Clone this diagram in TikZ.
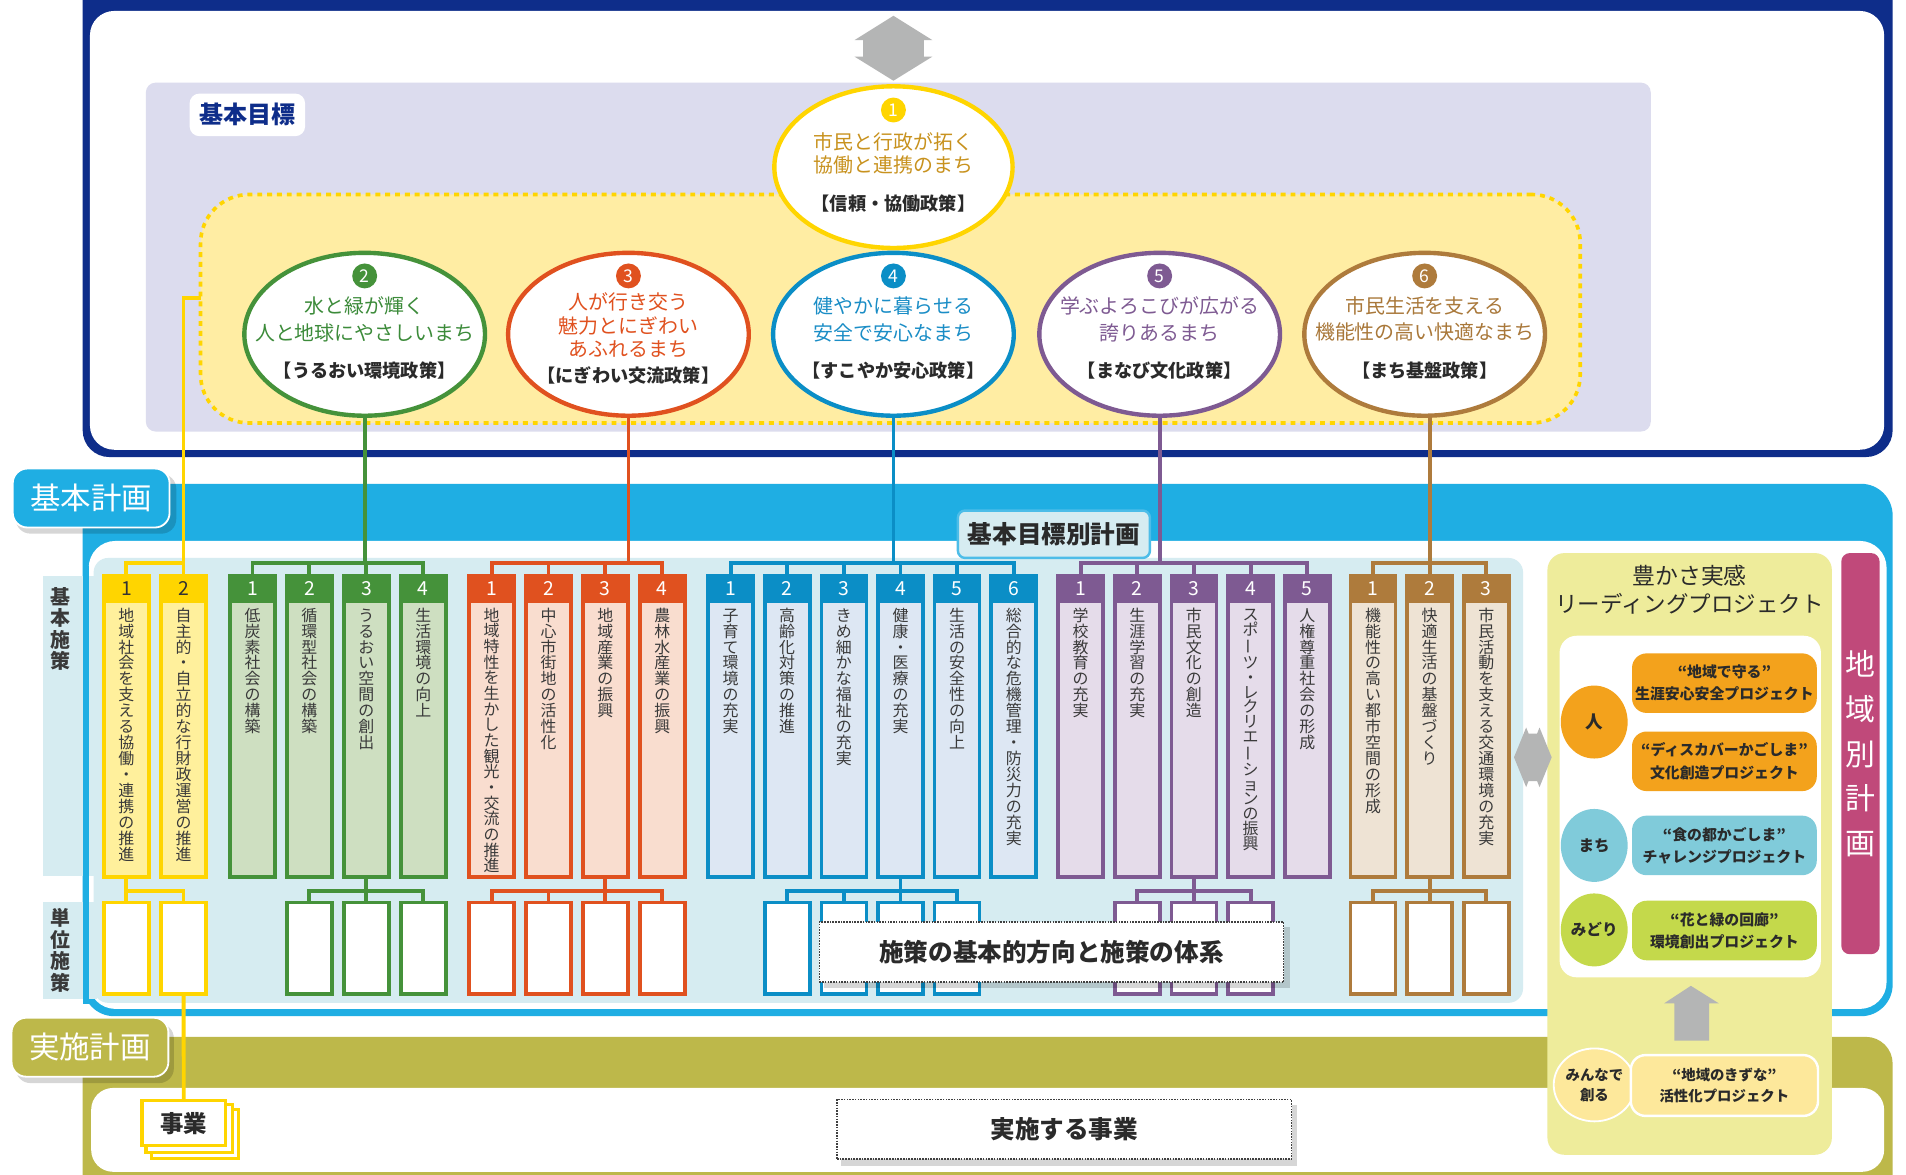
\documentclass[tikz,border=0pt]{standalone}
\usepackage{fontspec}
\setmainfont{Noto Sans CJK JP}
\usepackage{graphicx}
\usetikzlibrary{shapes.geometric,calc}
\newdimen\px \px=0.03647cm
\newdimen\vtH
\def\vtxtend{vtxtendmarker}
\newcommand\vtxt[2][1em]{\vtH=#1\relax\vbox{\offinterlineskip\vtxtl#2\vtxtend}}
\def\vtxtl#1{\ifx#1\vtxtend\else\hbox to 1em{\hss\vrule height \dimexpr.5\vtH+.38em\relax depth \dimexpr.5\vtH-.38em\relax width 0pt\relax#1\hss}\expandafter\vtxtl\fi}
\newcommand\vbar{\rotatebox[origin=c]{90}{ー}}
% colours
\definecolor{navyC}{HTML}{0E2D8A}
\definecolor{lav}{HTML}{DCDCEE}
\definecolor{goalfill}{HTML}{FFEDA3}
\definecolor{dotY}{HTML}{FFD500}
\definecolor{cyanC}{HTML}{1FAEE3}
\definecolor{cyanL}{HTML}{4DBDE8}
\definecolor{lblue}{HTML}{D6ECF1}
\definecolor{olivC}{HTML}{BDB84A}
\definecolor{ygpanel}{HTML}{EEEC9B}
\definecolor{magC}{HTML}{C0497A}
\definecolor{grayA}{HTML}{B4B5B5}
\definecolor{txtdark}{HTML}{2A2A2A}
\definecolor{txtgray}{HTML}{3A3A3A}
\definecolor{cY}{HTML}{FFD500}\definecolor{cYL}{HTML}{FFF09C}\colorlet{cYN}{black!80}
\definecolor{cG}{HTML}{45923A}\definecolor{cGL}{HTML}{CEDFC1}\colorlet{cGN}{white}
\definecolor{cO}{HTML}{E0511F}\definecolor{cOL}{HTML}{F9DDCF}\colorlet{cON}{white}
\definecolor{cB}{HTML}{0B8EC6}\definecolor{cBL}{HTML}{DDE7F3}\colorlet{cBN}{white}
\definecolor{cP}{HTML}{7E5A92}\definecolor{cPL}{HTML}{E5DCEA}\colorlet{cPN}{white}
\definecolor{cR}{HTML}{AE7B3C}\definecolor{cRL}{HTML}{EEE3D4}\colorlet{cRN}{white}
\definecolor{t1}{HTML}{C8921E}
\definecolor{t2}{HTML}{3C8B3A}
\definecolor{t3}{HTML}{E0511F}
\definecolor{t4}{HTML}{1A8DC6}
\definecolor{t5}{HTML}{7E5A92}
\definecolor{t6}{HTML}{A9783A}
\definecolor{porange}{HTML}{F3A21C}
\definecolor{pblue}{HTML}{80CBDA}
\definecolor{pgreen}{HTML}{C4D94B}
\definecolor{pyellow}{HTML}{FDE89B}
\colorlet{glowcol}{white}
\pgfdeclareradialshading[glowcol]{glow}{\pgfpointorigin}{color(0bp)=(white); color(36bp)=(white); color(50bp)=(glowcol)}
% column macro: [spacing]{name}{x}{colour}{number}{text}
\newcommand\mkcol[6][1em]{%
  \node[colbox=#4] (#2) at (#3,597.5) {};
  \fill[#4] ([shift={(-1.5,-1.5)}]#2.north west) rectangle ([shift={(1.5,22.5)}]#2.north east);
  \node[text=#4N, font=\fontsize{16.5pt}{16.5pt}\selectfont] (#2n) at ($(#2.north)+(0,10.5)$) {#5};
  \node[anchor=north, text=txtgray, font=\fontsize{13.6pt}{13.6pt}\selectfont] (#2t) at ($(#2.north)+(0,26)$) {\vtxt[#1]{#6}};
}
\newcommand\mkunit[3]{\node[unitbox=#3] (#1) at (#2,780) {};}
\begin{document}
\begin{tikzpicture}[x=0.03647cm, y=-0.03647cm,
  every node/.style={inner sep=0pt, outer sep=0pt},
  conn/.style={draw=#1, line width=3.2*\px},
  colbox/.style={draw=#1, fill=#1L, line width=3*\px, minimum width=37*\px, minimum height=248*\px},
  unitbox/.style={draw=#1, fill=white, line width=3*\px, minimum width=37*\px, minimum height=75*\px},
  goalc/.style={ellipse, draw=#1, line width=3.6*\px, shade, shading=glow, minimum width=198*\px, minimum height=134*\px},
  badge/.style={circle, fill=#1, text=white, minimum size=20.5*\px, font=\fontsize{15pt}{15pt}\selectfont},
  gtxt/.style={text=#1, font=\fontsize{17pt}{17pt}\selectfont},
  gbr/.style={text=txtdark, font=\fontsize{15.5pt}{15.5pt}\selectfont\bfseries},
  proj/.style={fill=#1, rounded corners=12*\px, minimum width=152*\px, minimum height=49*\px, align=center, text=txtdark, font=\fontsize{12.7pt}{19pt}\selectfont\bfseries},
  pcirc/.style={ellipse, fill=#1, minimum width=55*\px, minimum height=60*\px, text=txtdark, font=\fontsize{13.3pt}{13.3pt}\selectfont\bfseries},
  dotbox/.style={fill=white, draw=black!75, densely dotted, line width=1.3*\px, text=txtdark, font=\fontsize{21pt}{21pt}\selectfont\bfseries},
  planlbl/.style={fill=#1, draw=white, line width=1.5*\px, rounded corners=12*\px, minimum width=129*\px, minimum height=48.5*\px, text=white, font=\fontsize{26pt}{26pt}\selectfont},
  shadowbox/.style={fill=black, opacity=0.16},
]
\useasboundingbox (0,0) rectangle (1568,966);
\clip (0,0) rectangle (1568,966);
\fill[white] (0,0) rectangle (1568,966);
\coordinate (tb) at (0,463);
\coordinate (sb) at (0,733);
\coordinate (yj) at (0,245);

% ===== top frame (basic goals) =====
\fill[navyC, rounded corners=22*\px] (68,-40) rectangle (1557,376);
\fill[white, rounded corners=20*\px] (74,9) rectangle (1550,370);
\fill[lav, rounded corners=8*\px] (120,68) rectangle (1358,355);
\node[fill=white, rounded corners=8*\px, minimum width=95*\px, minimum height=35*\px, text=navyC, font=\fontsize{20.5pt}{20.5pt}\selectfont\bfseries] (lblgoal) at (203.5,94.5) {基本目標};
\node[draw=dotY, fill=goalfill, line width=3*\px, dash pattern=on 4.2pt off 4.2pt, rounded corners=40*\px, minimum width=1135*\px, minimum height=188*\px] (goalarea) at (732.5,254) {};
\fill[grayA] (735,13) -- (767,33) -- (760,33) -- (760,46.6) -- (767,46.6) -- (735,66.4) -- (703,46.6) -- (710,46.6) -- (710,33) -- (703,33) -- cycle;

% ===== basic plan frame =====
\fill[cyanC, rounded corners=26*\px] (68,398) rectangle (1557,836);
\fill[white, rounded corners=22*\px] (73,445) rectangle (1552,830);
% ===== implementation frame =====
\fill[olivC, rounded corners=22*\px] (68,853) rectangle (1557,990);
\fill[white, rounded corners=18*\px] (75,895) rectangle (1550,964);

% panels
\fill[lblue] (35,474) rectangle (80,721);
\fill[lblue] (35,742) rectangle (80,822);
\fill[lblue, rounded corners=12*\px] (77,459) rectangle (1253,825);
\fill[cyanC] (68,466) rectangle (73,826);
\node[text=txtgray, font=\fontsize{17pt}{17pt}\selectfont\bfseries] (lblkihon) at (50,517.5) {\vtxt[17.7\px]{基本施策}};
\node[text=txtgray, font=\fontsize{17pt}{17pt}\selectfont\bfseries] (lbltani) at (50,782) {\vtxt[17.7\px]{単位施策}};

% plan labels
\fill[shadowbox, rounded corners=12*\px] (13,390) rectangle (145,439);
\node[planlbl=cyanC] (lblplan) at (75,409.7) {基本計画};
\fill[shadowbox, rounded corners=12*\px] (13,842) rectangle (143,891);
\node[planlbl=olivC] (lblimpl) at (74,861.5) {実施計画};
\node[fill=lblue, draw=cyanL, line width=2*\px, rounded corners=6*\px, minimum width=158*\px, minimum height=39*\px, text=txtdark, font=\fontsize{21pt}{21pt}\selectfont\bfseries] (lblgbp) at (867,439.5) {基本目標別計画};

% ===== columns =====
\mkcol{y1}{104}{cY}{1}{地域社会を支える協働・連携の推進}
\mkcol{y2}{151}{cY}{2}{自主的・自立的な行財政運営の推進}
\mkcol{g1}{207.7}{cG}{1}{低炭素社会の構築}
\mkcol{g2}{254.5}{cG}{2}{循環型社会の構築}
\mkcol{g3}{301.4}{cG}{3}{うるおい空間の創出}
\mkcol{g4}{348.2}{cG}{4}{生活環境の向上}
\mkcol[12.9\px]{o1}{404.5}{cO}{1}{地域特性を生かした観光・交流の推進}
\mkcol{o2}{451.2}{cO}{2}{中心市街地の活性化}
\mkcol{o3}{497.9}{cO}{3}{地域産業の振興}
\mkcol{o4}{544.8}{cO}{4}{農林水産業の振興}
\mkcol{b1}{601}{cB}{1}{子育て環境の充実}
\mkcol{b2}{647.6}{cB}{2}{高齢化対策の推進}
\mkcol{b3}{694.2}{cB}{3}{きめ細かな福祉の充実}
\mkcol{b4}{740.8}{cB}{4}{健康・医療の充実}
\mkcol{b5}{787.4}{cB}{5}{生活の安全性の向上}
\mkcol{b6}{834}{cB}{6}{総合的な危機管理・防災力の充実}
\mkcol{p1}{889}{cP}{1}{学校教育の充実}
\mkcol{p2}{935.6}{cP}{2}{生涯学習の充実}
\mkcol{p3}{982.2}{cP}{3}{市民文化の創造}
\mkcol[12.2\px]{p4}{1028.8}{cP}{4}{スポ\vbar ツ・レクリエ\vbar ションの振興}
\mkcol{p5}{1075.4}{cP}{5}{人権尊重社会の形成}
\mkcol{r1}{1129.5}{cR}{1}{機能性の高い都市空間の形成}
\mkcol{r2}{1176.1}{cR}{2}{快適生活の基盤づくり}
\mkcol{r3}{1222.7}{cR}{3}{市民活動を支える交通環境の充実}

% ===== unit boxes =====
\mkunit{uy1}{104}{cY}\mkunit{uy2}{151}{cY}
\mkunit{ug2}{254.5}{cG}\mkunit{ug3}{301.4}{cG}\mkunit{ug4}{348.2}{cG}
\mkunit{uo1}{404.5}{cO}\mkunit{uo2}{451.2}{cO}\mkunit{uo3}{497.9}{cO}\mkunit{uo4}{544.8}{cO}
\mkunit{ub2}{647.6}{cB}\mkunit{ub3}{694.2}{cB}\mkunit{ub4}{740.8}{cB}\mkunit{ub5}{787.4}{cB}
\mkunit{up2}{935.6}{cP}\mkunit{up3}{982.2}{cP}\mkunit{up4}{1028.8}{cP}
\mkunit{ur1}{1129.5}{cR}\mkunit{ur2}{1176.1}{cR}\mkunit{ur3}{1222.7}{cR}

% ===== goal circles =====
\colorlet{glowcol}{cY!45}
\node[goalc=cY, minimum width=196*\px, minimum height=133*\px] (c1) at (735,137.5) {};
\colorlet{glowcol}{cG!30}
\node[goalc=cG] (c2) at (300,275) {};
\colorlet{glowcol}{cO!30}
\node[goalc=cO] (c3) at (517,275) {};
\colorlet{glowcol}{cB!30}
\node[goalc=cB] (c4) at (735,275) {};
\colorlet{glowcol}{cP!30}
\node[goalc=cP] (c5) at (954,275) {};
\colorlet{glowcol}{cR!30}
\node[goalc=cR] (c6) at (1172,275) {};

\node[badge=cY] (c1n) at (735,90.5) {1};
\node[gtxt=t1] (c1a) at (735,116.5) {市民と行政が拓く};
\node[gtxt=t1] (c1b) at (735,135.7) {協働と連携のまち};
\node[gbr] (c1c) at (735,167.8) {【信頼・協働政策】};

\node[badge=cG] (c2n) at (300,227) {2};
\node[gtxt=t2] (c2a) at (300,252) {水と緑が輝く};
\node[gtxt=t2] (c2b) at (300,273.5) {人と地球にやさしいまち};
\node[gbr] (c2c) at (300,304.5) {【うるおい環境政策】};

\node[badge=cO] (c3n) at (517,227) {3};
\node[gtxt=t3] (c3a) at (517,248.6) {人が行き交う};
\node[gtxt=t3] (c3b) at (517,268) {魅力とにぎわい};
\node[gtxt=t3] (c3d) at (517,287.5) {あふれるまち};
\node[gbr] (c3c) at (517,308.5) {【にぎわい交流政策】};

\node[badge=cB] (c4n) at (735,227) {4};
\node[gtxt=t4] (c4a) at (735,252) {健やかに暮らせる};
\node[gtxt=t4] (c4b) at (735,273.5) {安全で安心なまち};
\node[gbr] (c4c) at (735,304.5) {【すこやか安心政策】};

\node[badge=cP] (c5n) at (954,227) {5};
\node[gtxt=t5] (c5a) at (954,252) {学ぶよろこびが広がる};
\node[gtxt=t5] (c5b) at (954,273.5) {誇りあるまち};
\node[gbr] (c5c) at (954,304.5) {【まなび文化政策】};

\node[badge=cR] (c6n) at (1172,227) {6};
\node[gtxt=t6] (c6a) at (1172,252) {市民生活を支える};
\node[gtxt=t6] (c6b) at (1172,273.5) {機能性の高い快適なまち};
\node[gbr] (c6c) at (1172,304.5) {【まち基盤政策】};

% ===== connectors: goals -> basic measures =====
\draw[conn=cY] (goalarea.west|-yj) -| (y2.north);
\draw[conn=cY] (y1.north) |- (y2.north|-tb);

\draw[conn=cG] (c2.south) -- (c2.south|-tb);
\draw[conn=cG] (g1.north) |- (g4.north|-tb) -- (g4.north);
\draw[conn=cG] (g2.north) -- (g2.north|-tb);
\draw[conn=cG] (g3.north) -- (g3.north|-tb);

\draw[conn=cO] (c3.south) -- (c3.south|-tb);
\draw[conn=cO] (o1.north) |- (o4.north|-tb) -- (o4.north);
\draw[conn=cO] (o2.north) -- (o2.north|-tb);
\draw[conn=cO] (o3.north) -- (o3.north|-tb);

\draw[conn=cB] (c4.south) -- (c4.south|-tb);
\draw[conn=cB] (b1.north) |- (b6.north|-tb) -- (b6.north);
\draw[conn=cB] (b2.north) -- (b2.north|-tb);
\draw[conn=cB] (b3.north) -- (b3.north|-tb);
\draw[conn=cB] (b4.north) -- (b4.north|-tb);
\draw[conn=cB] (b5.north) -- (b5.north|-tb);

\draw[conn=cP] (c5.south) -- (c5.south|-tb);
\draw[conn=cP] (p1.north) |- (p5.north|-tb) -- (p5.north);
\draw[conn=cP] (p2.north) -- (p2.north|-tb);
\draw[conn=cP] (p3.north) -- (p3.north|-tb);
\draw[conn=cP] (p4.north) -- (p4.north|-tb);

\draw[conn=cR] (r2.north|-c6.south) -- (r2.north);
\draw[conn=cR] (r1.north) |- (r3.north|-tb) -- (r3.north);

% ===== connectors: basic measures -> unit measures =====
\draw[conn=cY] (y1.south) -- (uy1.north);
\draw[conn=cY] (y1.south|-sb) -| (uy2.north);

\draw[conn=cG] (g3.south) -- (ug3.north);
\draw[conn=cG] (ug2.north) |- (ug4.north|-sb) -- (ug4.north);

\draw[conn=cO] (o3.south) -- (uo3.north);
\draw[conn=cO] (uo1.north) |- (uo4.north|-sb) -- (uo4.north);
\draw[conn=cO] (uo2.north) -- (uo2.north|-sb);

\draw[conn=cB] (b4.south) -- (ub4.north);
\draw[conn=cB] (ub2.north) |- (ub5.north|-sb) -- (ub5.north);
\draw[conn=cB] (ub3.north) -- (ub3.north|-sb);

\draw[conn=cP] (p3.south) -- (up3.north);
\draw[conn=cP] (up2.north) |- (up4.north|-sb) -- (up4.north);

\draw[conn=cR] (r2.south) -- (ur2.north);
\draw[conn=cR] (ur1.north) |- (ur3.north|-sb) -- (ur3.north);

% system label box
\fill[shadowbox] (678,763) rectangle (1061,813);
\node[dotbox, minimum width=382*\px, minimum height=49.5*\px] (sys) at (865,783.3) {施策の基本的方向と施策の体系};

% ===== leading projects panel =====
\fill[ygpanel, rounded corners=14*\px] (1273,455) rectangle (1507,950);
\node[text=txtdark, font=\fontsize{19.5pt}{19.5pt}\selectfont] (lpt1) at (1390,473.5) {豊かさ実感};
\node[text=txtdark, font=\fontsize{19.2pt}{19.2pt}\selectfont] (lpt2) at (1390,496.5) {リーディングプロジェクト};
\fill[white, rounded corners=14*\px] (1283,523) rectangle (1498,804);
\node[pcirc=porange, font=\fontsize{15pt}{15pt}\selectfont\bfseries] (hito) at (1311.5,594) {人};
\node[pcirc=pblue] (machi) at (1311.5,695.5) {まち};
\node[pcirc=pgreen] (midori) at (1311.5,765) {みどり};
\node[proj=porange] (pj1) at (1418.6,562) {“地域で守る”\\生涯安心安全プロジェクト};
\node[proj=porange] (pj2) at (1418.6,626.3) {“ディスカバーかごしま”\\文化創造プロジェクト};
\node[proj=pblue] (pj3) at (1418.6,695.5) {“食の都かごしま”\\チャレンジプロジェクト};
\node[proj=pgreen] (pj4) at (1418.6,765.5) {“花と緑の回廊”\\環境創出プロジェクト};
\fill[grayA] (1391,811) -- (1414,825.4) -- (1406,825.4) -- (1406,856) -- (1377.4,856) -- (1377.4,825.4) -- (1369,825.4) -- cycle;
\node[ellipse, fill=pyellow, draw=white, line width=1.5*\px, minimum width=57*\px, minimum height=60*\px, align=center, text=txtdark, font=\fontsize{12.3pt}{17.1pt}\selectfont\bfseries] (minna) at (1311.7,892.5) {みんなで\\創る};
\node[proj=pyellow, draw=white, line width=2*\px, minimum width=154*\px, minimum height=50*\px, font=\fontsize{12.3pt}{18.2pt}\selectfont\bfseries] (kizuna) at (1418.6,893) {“地域のきずな”\\活性化プロジェクト};

% regional plan
\node[fill=magC, rounded corners=7*\px, minimum width=31.5*\px, minimum height=330*\px, text=white, font=\fontsize{25.5pt}{25.5pt}\selectfont] (area) at (1530.5,620) {\vtxt[37\px]{地域別計画}};

% horizontal double arrow
\fill[grayA] (1245.5,623) -- (1255.5,598.5) -- (1257.5,603.5) -- (1264.5,603.5) -- (1266.5,598.5) -- (1276.5,623) -- (1266.5,647.5) -- (1264.5,642.5) -- (1257.5,642.5) -- (1255.5,647.5) -- cycle;

% ===== implementation =====
\draw[draw=cY, fill=white, line width=2.7*\px] (124.7,913) rectangle (196,952.8);
\draw[draw=cY, fill=white, line width=2.7*\px] (120.2,908.5) rectangle (191.5,948.3);
\node[draw=cY, fill=white, line width=2.7*\px, minimum width=68.6*\px, minimum height=37*\px, text=txtdark, font=\fontsize{20pt}{20pt}\selectfont\bfseries] (jigyo) at (151.2,924) {事業};
\draw[conn=cY] (uy2.south) -- (jigyo.north);

\fill[shadowbox] (692,909) rectangle (1067,959);
\node[dotbox, minimum width=374*\px, minimum height=49*\px] (exec) at (875.5,929) {実施する事業};
\end{tikzpicture}
\end{document}
